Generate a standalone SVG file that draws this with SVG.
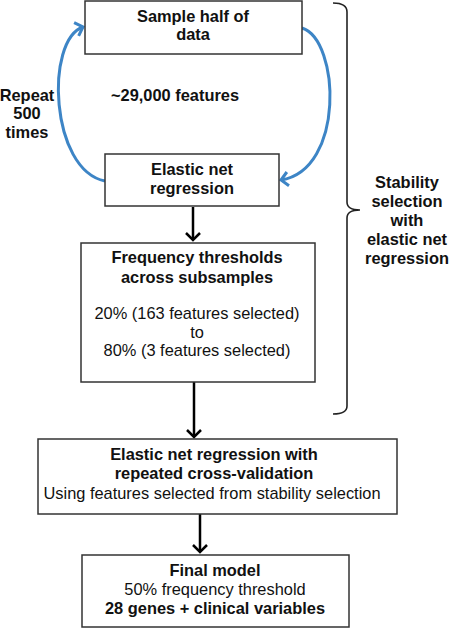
<svg xmlns="http://www.w3.org/2000/svg" width="449" height="628" viewBox="0 0 449 628">
<style>
.box{fill:#fff;stroke:#333;stroke-width:1.5}
text{font-family:"Liberation Sans",Arial,sans-serif;font-size:16.4px;fill:#111;text-anchor:middle}
.b{font-weight:bold}
.arr{fill:none;stroke:#000;stroke-width:2.5}
.loop{fill:none;stroke:#3d85c6;stroke-width:3}
.brace{fill:none;stroke:#222;stroke-width:1.6}
</style>
<defs>
<marker id="ah" markerUnits="userSpaceOnUse" markerWidth="20" markerHeight="20" refX="10" refY="10" orient="auto" viewBox="0 0 20 20">
<path d="M3,3 L10,10 L3,17" fill="none" stroke="#000" stroke-width="2.5"/>
</marker>
<marker id="bh" markerUnits="userSpaceOnUse" markerWidth="20" markerHeight="20" refX="10" refY="10" orient="auto" viewBox="0 0 20 20">
<path d="M3,3 L10,10 L3,17" fill="none" stroke="#3d85c6" stroke-width="3"/>
</marker>
</defs>
<g id="connectors">
<path class="loop" d="M105,181 C50,170 45,40 83,27" marker-end="url(#bh)"/>
<path class="loop" d="M302,28 C340,40 345,170 281,180" marker-end="url(#bh)"/>
<line class="arr" x1="193" y1="207" x2="193" y2="240" marker-end="url(#ah)"/>
<line class="arr" x1="194" y1="382" x2="194" y2="437" marker-end="url(#ah)"/>
<line class="arr" x1="200" y1="514" x2="200" y2="552" marker-end="url(#ah)"/>
</g>
<g id="sample">
<rect class="box" x="85" y="1" width="217" height="53"/>
<text class="b" x="193" y="22">Sample half of</text>
<text class="b" x="193" y="40">data</text>
</g>
<g id="features-label">
<text class="b" x="175" y="101">~29,000 features</text>
</g>
<g id="repeat-label">
<text class="b" x="27" y="101">Repeat</text>
<text class="b" x="27" y="119">500</text>
<text class="b" x="27" y="138">times</text>
</g>
<g id="elastic">
<rect class="box" x="105" y="154" width="174" height="52"/>
<text class="b" x="192" y="175">Elastic net</text>
<text class="b" x="192" y="194">regression</text>
</g>
<g id="freq">
<rect class="box" x="81" y="243" width="234" height="139"/>
<text class="b" x="197" y="263">Frequency thresholds</text>
<text class="b" x="197" y="283">across subsamples</text>
<text x="197" y="319">20% (163 features selected)</text>
<text x="197" y="338">to</text>
<text x="197" y="356">80% (3 features selected)</text>
</g>
<g id="cv">
<rect class="box" x="38" y="439" width="359" height="75"/>
<text class="b" x="214" y="460">Elastic net regression with</text>
<text class="b" x="214" y="479">repeated cross-validation</text>
<text x="212" y="499">Using features selected from stability selection</text>
</g>
<g id="final">
<rect class="box" x="82" y="555" width="267" height="72"/>
<text class="b" x="215" y="576">Final model</text>
<text x="215" y="595">50% frequency threshold</text>
<text class="b" x="215" y="614">28 genes + clinical variables</text>
</g>
<g id="stability">
<path class="brace" d="M333,3 Q347,3 347,12 L347,202 Q347,210 360,210 Q347,210 347,218 L347,406 Q347,414 333,414"/>
<text class="b" x="407" y="188">Stability</text>
<text class="b" x="407" y="207">selection</text>
<text class="b" x="407" y="226">with</text>
<text class="b" x="407" y="245">elastic net</text>
<text class="b" x="407" y="264">regression</text>
</g>
</svg>
